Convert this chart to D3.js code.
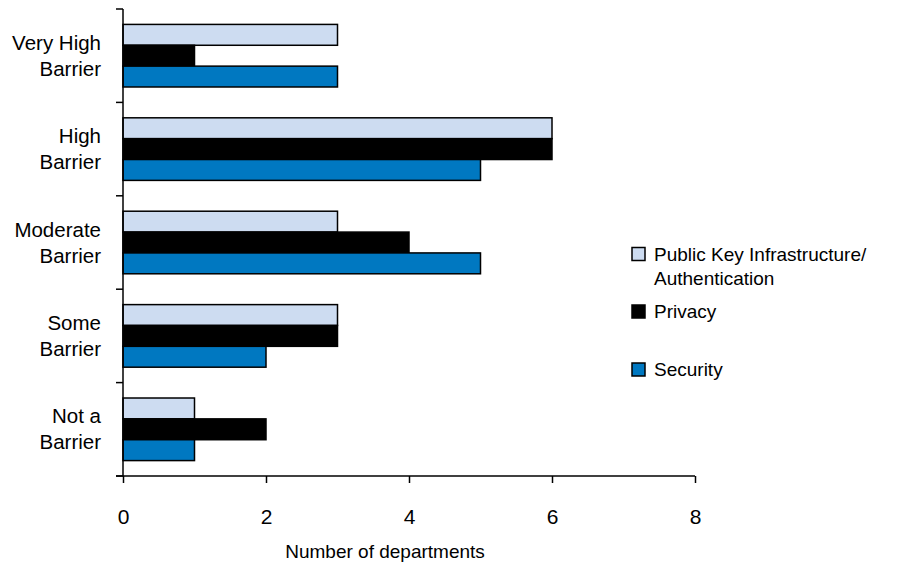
<!DOCTYPE html>
<html>
<head>
<meta charset="utf-8">
<script src="https://cdn.jsdelivr.net/npm/d3@7"></script>
<style>
  html, body { margin: 0; padding: 0; background: #fff; }
  svg { display: block; font-family: "Liberation Sans", Arial, sans-serif; }
</style>
</head>
<body>
<svg id="chart" width="898" height="572"></svg>
<script>
// Barrier levels, top to bottom, each split over two lines
const categories = [
  ["Very High", "Barrier"],
  ["High", "Barrier"],
  ["Moderate", "Barrier"],
  ["Some", "Barrier"],
  ["Not a", "Barrier"]
];
const seriesNames = ["Public Key Infrastructure/Authentication", "Privacy", "Security"];
const pkiValues = [3, 6, 3, 3, 1];
const privacyValues = [1, 6, 4, 3, 2];
const securityValues = [3, 5, 5, 2, 1];
const xTicks = [0, 2, 4, 6, 8];

const seriesValues = [pkiValues, privacyValues, securityValues];
const colors = ["#cddcf1", "#000000", "#0078c1"];

const svg = d3.select("#chart");
const margin = { left: 123, right: 203, top: 9, bottom: 96 };
const W = 898, H = 572;
const plotH = H - margin.top - margin.bottom;

const catKeys = categories.map((c, i) => i);
const y = d3.scaleBand().domain(catKeys).range([margin.top, H - margin.bottom]).paddingInner(0.33).paddingOuter(0.165);
const ySub = d3.scaleBand().domain([0, 1, 2]).range([0, y.bandwidth()]).padding(0);
const x = d3.scaleLinear().domain([0, 8]).range([margin.left, W - margin.right]);

// bars
const groups = svg.append("g").selectAll("g")
  .data(catKeys).join("g")
  .attr("transform", d => `translate(0,${y(d)})`);

groups.selectAll("rect")
  .data(ci => seriesValues.map((vals, si) => ({ si, v: vals[ci] })))
  .join("rect")
  .attr("x", x(0))
  .attr("y", d => ySub(d.si))
  .attr("width", d => x(d.v) - x(0))
  .attr("height", ySub.bandwidth())
  .attr("fill", d => colors[d.si])
  .attr("stroke", "#000")
  .attr("stroke-width", 1.5);

// y axis with tick marks between categories
const yAxisG = svg.append("g");
yAxisG.append("line")
  .attr("x1", x(0)).attr("x2", x(0))
  .attr("y1", margin.top).attr("y2", H - margin.bottom)
  .attr("stroke", "#000").attr("stroke-width", 1.5);
d3.range(categories.length + 1).forEach(i => {
  const yy = margin.top + i * plotH / categories.length;
  yAxisG.append("line")
    .attr("x1", x(0) - 7).attr("x2", x(0))
    .attr("y1", yy).attr("y2", yy)
    .attr("stroke", "#000").attr("stroke-width", 1.5);
});

// category labels
const labelG = svg.append("g");
catKeys.forEach(i => {
  const cy = margin.top + (i + 0.5) * plotH / categories.length;
  const t = labelG.append("text")
    .attr("text-anchor", "end")
    .attr("font-size", 20.5)
    .attr("fill", "#000");
  categories[i].forEach((line, k) => {
    t.append("tspan")
      .attr("x", 101)
      .attr("y", cy - 6 + k * 26)
      .text(line);
  });
});

// x axis
const xAxis = d3.axisBottom(x).tickValues(xTicks).tickSize(7).tickSizeOuter(0).tickPadding(26);
const xg = svg.append("g")
  .attr("transform", `translate(0,${H - margin.bottom})`)
  .call(xAxis);
xg.select(".domain").attr("stroke-width", 1.5).attr("d", `M${x(0) - 7},0H${x(8)}`);
xg.selectAll(".tick line").attr("stroke-width", 1.5);
xg.selectAll(".tick text")
  .attr("font-size", 21)
  .attr("font-family", "Liberation Sans, Arial, sans-serif")
  .attr("fill", "#000");

svg.append("text")
  .attr("x", 385)
  .attr("y", 558)
  .attr("text-anchor", "middle")
  .attr("font-size", 19)
  .attr("fill", "#000")
  .text("Number of departments");

// legend
const legendItems = [
  { lines: ["Public Key Infrastructure/", "Authentication"], y: 254 },
  { lines: ["Privacy"], y: 311.5 },
  { lines: ["Security"], y: 369.5 }
];
const lg = svg.append("g");
legendItems.forEach((item, i) => {
  lg.append("rect")
    .attr("x", 632).attr("y", item.y - 6.5)
    .attr("width", 13).attr("height", 13)
    .attr("fill", colors[i])
    .attr("stroke", "#000").attr("stroke-width", 1.5);
  const t = lg.append("text").attr("font-size", 19).attr("fill", "#000");
  item.lines.forEach((line, k) => {
    t.append("tspan").attr("x", 654).attr("y", item.y + 6.5 + k * 24).text(line);
  });
});
</script>
</body>
</html>
